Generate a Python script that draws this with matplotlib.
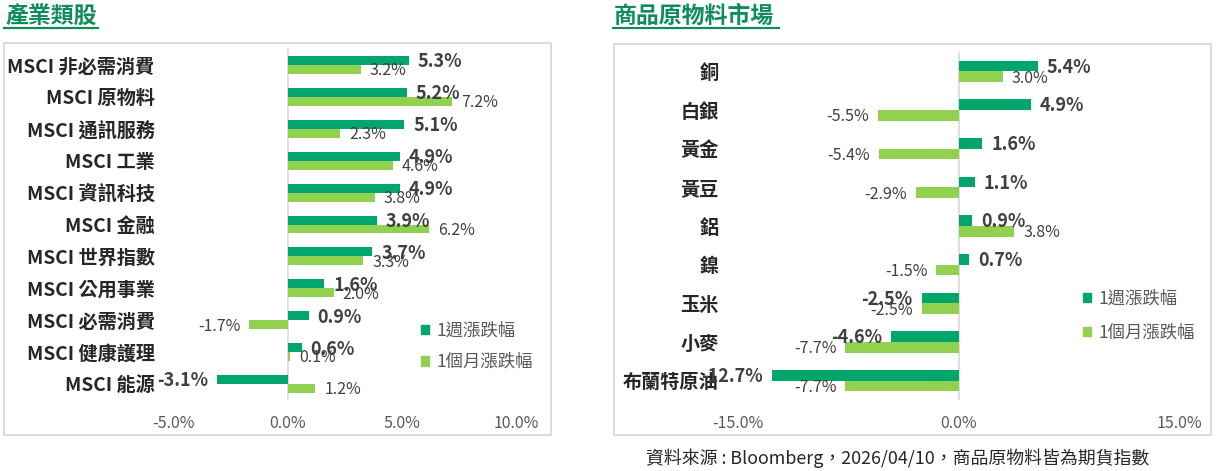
import matplotlib
matplotlib.use("Agg")
import numpy as np
from matplotlib import pyplot as plt
from matplotlib.patches import Rectangle, Patch
from matplotlib.lines import Line2D

plt.rcParams['font.family'] = ['Noto Sans CJK TC', 'DejaVu Sans']

# 產業類股
sector_names = ['MSCI 非必需消費', 'MSCI 原物料', 'MSCI 通訊服務', 'MSCI 工業', 'MSCI 資訊科技',
                'MSCI 金融', 'MSCI 世界指數', 'MSCI 公用事業', 'MSCI 必需消費', 'MSCI 健康護理',
                'MSCI 能源']
sector_week = [5.3, 5.2, 5.1, 4.9, 4.9, 3.9, 3.7, 1.6, 0.9, 0.6, -3.1]
sector_month = [3.2, 7.2, 2.3, 4.6, 3.8, 6.2, 3.3, 2.0, -1.7, 0.1, 1.2]
sector_ticks = [-5, 0, 5, 10]

# 商品原物料市場
comm_names = ['銅', '白銀', '黃金', '黃豆', '鋁', '鎳', '玉米', '小麥', '布蘭特原油']
comm_week = [5.4, 4.9, 1.6, 1.1, 0.9, 0.7, -2.5, -4.6, -12.7]
comm_month = [3.0, -5.5, -5.4, -2.9, 3.8, -1.5, -2.5, -7.7, -7.7]
comm_ticks = [-15, 0, 15]

series_names = ['1週漲跌幅', '1個月漲跌幅']

DARK = '#00A66A'
LIGHT = '#92D050'
GREY = '#D9D9D9'
TXT = '#404040'

W, H = 1217, 471
fig = plt.figure(figsize=(W / 100, H / 100), dpi=100)


def px_box(x0, y0, x1, y1):
    # pixel box (top-left origin) -> figure fraction rect
    return [x0 / W, 1 - y1 / H, (x1 - x0) / W, (y1 - y0) / H]


def draw_panel(rect, names, week, month, ticks, xlim):
    ax = fig.add_axes(rect)
    y = np.arange(len(names))
    h = 0.28
    ax.barh(y - h / 2, week, height=h, color=DARK)
    ax.barh(y + h / 2, month, height=h, color=LIGHT)
    for yi, v in zip(y - h / 2, week):
        ax.annotate(f'{v:.1f}%', (v, yi), xytext=(6.5 if v >= 0 else -6.5, -1),
                    textcoords='offset points', ha='left' if v >= 0 else 'right',
                    va='center', fontsize=13, color=TXT, fontweight='bold')
    for yi, v in zip(y + h / 2, month):
        ax.annotate(f'{v:.1f}%', (v, yi), xytext=(6.5 if v >= 0 else -6.5, -1),
                    textcoords='offset points', ha='left' if v >= 0 else 'right',
                    va='center', fontsize=11.5, color=TXT)
    ax.axvline(0, color=GREY, lw=1.2, zorder=0)
    ax.set_xlim(*xlim)
    ax.set_ylim(len(names) - 0.5, -0.5)
    ax.set_xticks(ticks)
    ax.set_xticklabels([f'{t:.1f}%' for t in ticks], fontsize=11.5, color='#595959')
    ax.set_yticks(y)
    ax.set_yticklabels(names, fontsize=13.8, color='#262626', fontweight='bold')
    ax.tick_params(axis='x', length=0, pad=11)
    ax.tick_params(axis='y', length=0, pad=14)
    for s in ax.spines.values():
        s.set_visible(False)
    ax.patch.set_alpha(0)
    return ax


ax1 = draw_panel(px_box(174, 49, 516, 400), sector_names, sector_week, sector_month,
                 sector_ticks, (-5, 10))
ax2 = draw_panel(px_box(738, 52, 1179, 400), comm_names, comm_week, comm_month,
                 comm_ticks, (-15, 15))

# frames around each chart
for x0, y0, x1, y1 in [(4, 43, 551, 435), (614, 44, 1211, 435)]:
    r = px_box(x0, y0, x1, y1)
    fig.patches.append(Rectangle((r[0], r[1]), r[2], r[3], transform=fig.transFigure,
                                 fill=False, ec=GREY, lw=1.3))

# titles with underline
TITLE_C = '#0E8C5A'
for x0, x1, txt in [(4, 98, '產業類股'), (613, 779, '商品原物料市場')]:
    fig.text(x0 / W + 0.001, 1 - 16 / H, txt, fontsize=16.5, fontweight='bold',
             color=TITLE_C, va='center', ha='left')
    fig.add_artist(Line2D([x0 / W, x1 / W], [1 - 28 / H, 1 - 28 / H], color=TITLE_C,
                          lw=1.6, transform=fig.transFigure))

handles = [Patch(color=DARK), Patch(color=LIGHT)]
for ax, (lx, ly), sp in [(ax1, (421, 322), 0.75), (ax2, (1083, 290), 0.9)]:
    ax.legend(handles, series_names, loc='upper left',
              bbox_to_anchor=(lx / W, 1 - ly / H), bbox_transform=fig.transFigure,
              frameon=False, fontsize=12.5, handlelength=0.45, handleheight=0.45,
              handletextpad=0.45, labelspacing=sp, borderpad=0, borderaxespad=0,
              labelcolor='#595959')

fig.text(898 / W, 1 - 458 / H, '資料來源 : Bloomberg，2026/04/10，商品原物料皆為期貨指數',
         fontsize=12.9, color='#262626', ha='center', va='center')

fig.savefig('out.png', dpi=100)
